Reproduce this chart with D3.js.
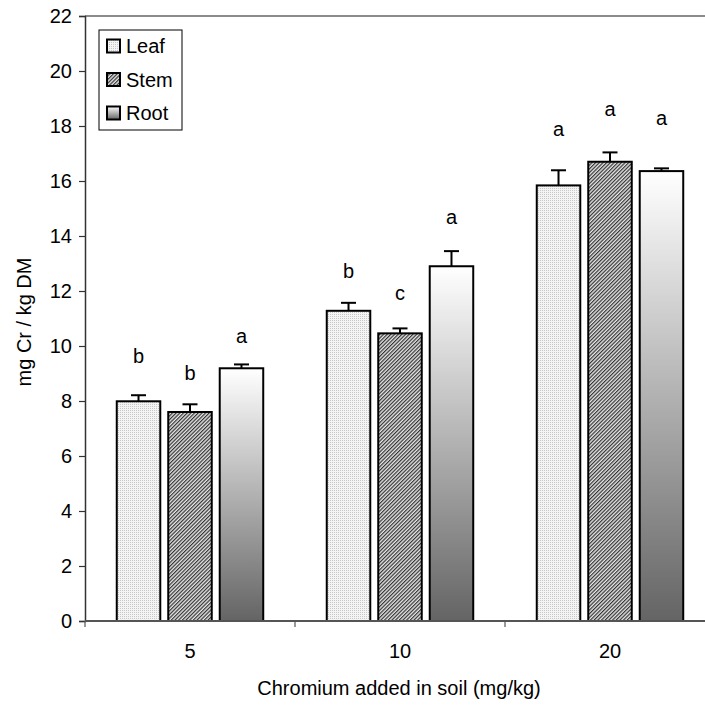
<!DOCTYPE html>
<html>

<head>
	<meta charset="UTF-8" />
	<title>Chromium in plant parts</title>
	<script src="https://d3js.org/d3.v7.min.js"></script>
	<style>
		body {
			margin: 0;
			background: white;
		}

		text {
			font-family: "Liberation Sans", Arial, sans-serif;
			fill: black;
		}
	</style>
</head>

<body>
	<div id="main"></div>

	<script type="text/javascript">
		var doses = ['5', '10', '20'];
		var parts = ['Leaf', 'Stem', 'Root'];
		// mean values, one array per plant part (same order as doses)
		var leafValues = [7.99, 11.28, 15.84];
		var stemValues = [7.60, 10.46, 16.70];
		var rootValues = [9.19, 12.90, 16.36];
		// standard errors
		var leafErrors = [0.22, 0.29, 0.55];
		var stemErrors = [0.28, 0.18, 0.34];
		var rootErrors = [0.14, 0.55, 0.10];
		// significance letters and the height they sit at
		var leafLetters = ['b', 'b', 'a'];
		var stemLetters = ['b', 'c', 'a'];
		var rootLetters = ['a', 'a', 'a'];
		var leafLetterY = [9.65, 12.74, 17.88];
		var stemLetterY = [9.02, 11.94, 18.61];
		var rootLetterY = [10.36, 14.70, 18.30];
		var yTicks = [0, 2, 4, 6, 8, 10, 12, 14, 16, 18, 20, 22];

		var values = { Leaf: leafValues, Stem: stemValues, Root: rootValues };
		var errors = { Leaf: leafErrors, Stem: stemErrors, Root: rootErrors };
		var letters = { Leaf: leafLetters, Stem: stemLetters, Root: rootLetters };
		var letterY = { Leaf: leafLetterY, Stem: stemLetterY, Root: rootLetterY };

		var rows = [];
		doses.forEach(function (d, i) {
			parts.forEach(function (p) {
				rows.push({ dose: d, part: p, value: values[p][i], err: errors[p][i], letter: letters[p][i], ly: letterY[p][i] });
			});
		});

		var width = 705, height = 705;
		var margin = { top: 16, right: -10, bottom: 84, left: 85 };
		var svg = d3.select('#main').append('svg').attr('width', width).attr('height', height);

		var defs = svg.append('defs');
		// Leaf: fine light dots
		var dots = defs.append('pattern').attr('id', 'fill-Leaf').attr('patternUnits', 'userSpaceOnUse')
			.attr('width', 2).attr('height', 2);
		dots.append('rect').attr('width', 2).attr('height', 2).attr('fill', '#f4f4f4');
		dots.append('rect').attr('width', 1).attr('height', 1).attr('fill', '#c8c8c8');
		// Stem: fine diagonal hatching
		var hatch = defs.append('pattern').attr('id', 'fill-Stem').attr('patternUnits', 'userSpaceOnUse')
			.attr('width', 2.6).attr('height', 2.6).attr('patternTransform', 'rotate(45)');
		hatch.append('rect').attr('width', 2.6).attr('height', 2.6).attr('fill', '#e6e6e6');
		hatch.append('rect').attr('width', 1.2).attr('height', 2.6).attr('fill', '#333');
		// Root: white to gray gradient
		var grad = defs.append('linearGradient').attr('id', 'fill-Root')
			.attr('x1', 0).attr('y1', 0).attr('x2', 0).attr('y2', 1);
		grad.append('stop').attr('offset', '0%').attr('stop-color', '#ffffff');
		grad.append('stop').attr('offset', '100%').attr('stop-color', '#646464');

		var x0 = d3.scaleBand().domain(doses).range([margin.left, width - margin.right]).padding(0);
		var x1 = d3.scaleBand().domain(parts).range([0, x0.bandwidth()]).paddingInner(0.155).paddingOuter(0.617);
		var y = d3.scaleLinear().domain([0, 22]).range([height - margin.bottom, margin.top]);

		// plot area top border
		svg.append('line')
			.attr('x1', margin.left).attr('x2', width)
			.attr('y1', y(22)).attr('y2', y(22))
			.attr('stroke', '#8c8c8c').attr('stroke-width', 2);

		// y axis
		var yAxis = svg.append('g')
			.attr('transform', 'translate(' + margin.left + ',0)')
			.call(d3.axisLeft(y).tickValues(yTicks).tickSize(6).tickPadding(7));
		yAxis.select('.domain').attr('stroke', '#333').attr('stroke-width', 1.5);
		yAxis.selectAll('.tick line').attr('stroke', '#333').attr('stroke-width', 1.2);
		yAxis.selectAll('.tick text').attr('font-size', '20px').attr('font-family', '"Liberation Sans", Arial, sans-serif');

		// bars
		var bars = svg.append('g');
		bars.selectAll('rect').data(rows).enter().append('rect')
			.attr('x', d => x0(d.dose) + x1(d.part))
			.attr('y', d => y(d.value))
			.attr('width', x1.bandwidth())
			.attr('height', d => y(0) - y(d.value))
			.attr('fill', d => 'url(#fill-' + d.part + ')')
			.attr('stroke', 'black').attr('stroke-width', 2);

		// error bars (upper only)
		var errs = svg.append('g').attr('stroke', 'black').attr('stroke-width', 2);
		errs.selectAll('line.stem').data(rows).enter().append('line').attr('class', 'stem')
			.attr('x1', d => x0(d.dose) + x1(d.part) + x1.bandwidth() / 2)
			.attr('x2', d => x0(d.dose) + x1(d.part) + x1.bandwidth() / 2)
			.attr('y1', d => y(d.value))
			.attr('y2', d => y(d.value + d.err));
		errs.selectAll('line.cap').data(rows).enter().append('line').attr('class', 'cap')
			.attr('x1', d => x0(d.dose) + x1(d.part) + x1.bandwidth() / 2 - 7.5)
			.attr('x2', d => x0(d.dose) + x1(d.part) + x1.bandwidth() / 2 + 7.5)
			.attr('y1', d => y(d.value + d.err))
			.attr('y2', d => y(d.value + d.err));

		// significance letters
		svg.append('g').selectAll('text').data(rows).enter().append('text')
			.attr('x', d => x0(d.dose) + x1(d.part) + x1.bandwidth() / 2)
			.attr('y', d => y(d.ly))
			.attr('dy', '0.35em')
			.attr('text-anchor', 'middle')
			.attr('font-size', '20px')
			.text(d => d.letter);

		// x axis
		var xAxisG = svg.append('g').attr('transform', 'translate(0,' + y(0) + ')');
		xAxisG.append('line').attr('x1', margin.left).attr('x2', width).attr('stroke', '#555').attr('stroke-width', 2);
		xAxisG.selectAll('line.tk').data(doses).enter().append('line').attr('class', 'tk')
			.attr('x1', d => x0(d)).attr('x2', d => x0(d))
			.attr('y1', 0).attr('y2', 6)
			.attr('stroke', '#555').attr('stroke-width', 1.2);
		xAxisG.selectAll('text').data(doses).enter().append('text')
			.attr('x', d => x0(d) + x0.bandwidth() / 2)
			.attr('y', 30)
			.attr('dy', '0.35em')
			.attr('text-anchor', 'middle')
			.attr('font-size', '20px')
			.text(d => d);

		// axis titles
		svg.append('text')
			.attr('x', 399).attr('y', 688).attr('dy', '0.35em')
			.attr('text-anchor', 'middle').attr('font-size', '20px')
			.text('Chromium added in soil (mg/kg)');
		svg.append('text')
			.attr('transform', 'translate(24,322) rotate(-90)')
			.attr('dy', '0.35em')
			.attr('text-anchor', 'middle').attr('font-size', '20px')
			.text('mg Cr / kg DM');

		// legend
		var legend = svg.append('g').attr('transform', 'translate(99,30)');
		legend.append('rect').attr('width', 83).attr('height', 100)
			.attr('fill', 'white').attr('stroke', 'black').attr('stroke-width', 1);
		var items = legend.selectAll('g.item').data(parts).enter().append('g').attr('class', 'item')
			.attr('transform', (d, i) => 'translate(8,' + (16 + i * 33.5) + ')');
		items.append('rect').attr('x', 0).attr('y', -6.5).attr('width', 13).attr('height', 13)
			.attr('fill', d => 'url(#fill-' + d + ')').attr('stroke', 'black').attr('stroke-width', 2);
		items.append('text').attr('x', 19).attr('dy', '0.35em').attr('font-size', '20px').text(d => d);
	</script>
</body>

</html>
